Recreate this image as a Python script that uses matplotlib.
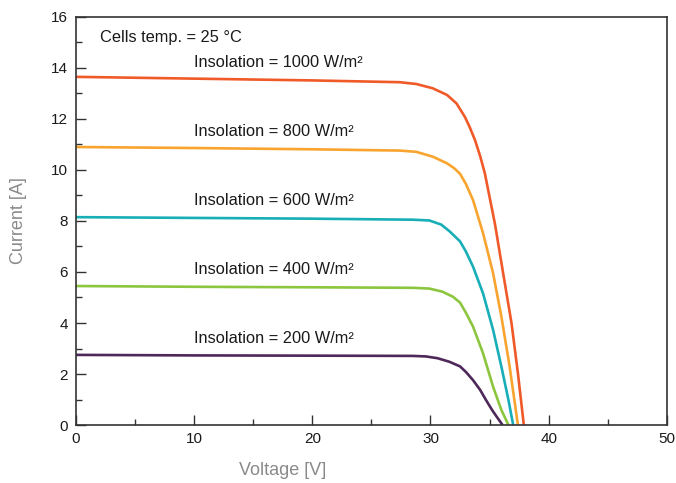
import matplotlib.pyplot as plt
from matplotlib.ticker import MultipleLocator

# I-V curves (voltage V, current A)
v_1000 = [0, 10, 20, 27.4, 28.8, 30.2, 31.4, 32.2, 32.9, 33.3, 33.76, 34.2, 34.6, 35.45, 36.15, 36.86, 37.4, 37.9]
i_1000 = [13.65, 13.58, 13.51, 13.44, 13.37, 13.2, 12.94, 12.61, 12.09, 11.7, 11.18, 10.55, 9.87, 7.9, 5.95, 3.99, 2.03, 0]

v_800 = [0, 10, 20, 27.4, 28.8, 30.2, 31.4, 32.0, 32.5, 33.0, 33.6, 34.45, 35.3, 36.0, 36.7, 37.4]
i_800 = [10.9, 10.86, 10.81, 10.76, 10.71, 10.52, 10.26, 10.07, 9.85, 9.45, 8.82, 7.52, 5.95, 4.25, 2.29, 0]

v_600 = [0, 10, 20, 28.5, 29.9, 30.9, 31.6, 32.1, 32.5, 33.0, 33.6, 34.45, 35.3, 36.0, 36.6, 37.0]
i_600 = [8.15, 8.12, 8.09, 8.05, 8.02, 7.86, 7.6, 7.38, 7.2, 6.8, 6.21, 5.16, 3.73, 2.29, 0.98, 0]

v_400 = [0, 10, 20, 28.5, 29.9, 31.0, 31.9, 32.5, 33.0, 33.6, 34.45, 35.3, 36.0, 36.6]
i_400 = [5.45, 5.42, 5.4, 5.38, 5.35, 5.23, 5.03, 4.8, 4.4, 3.86, 2.81, 1.5, 0.59, 0]

v_200 = [0, 10, 20, 28.5, 29.6, 30.6, 31.6, 32.5, 33.0, 33.6, 34.2, 34.7, 35.2, 35.6, 36.1]
i_200 = [2.75, 2.73, 2.72, 2.71, 2.69, 2.62, 2.48, 2.3, 2.08, 1.76, 1.38, 0.98, 0.6, 0.33, 0]

insolation = [1000, 800, 600, 400, 200]
label_y = [14.2, 11.5, 8.8, 6.1, 3.4]
colors = ['#F05A28', '#F8A42F', '#17AEB7', '#8CC63F', '#4D2859']

plt.rcParams['font.family'] = ['Liberation Sans', 'DejaVu Sans']

fig = plt.figure(figsize=(6.76, 4.83), dpi=100)
ax = fig.add_axes([0.1124, 0.12, 0.874, 0.845])

curves = [(v_1000, i_1000), (v_800, i_800), (v_600, i_600), (v_400, i_400), (v_200, i_200)]
for (v, i), c in zip(curves, colors):
    ax.plot(v, i, color=c, lw=1.9, solid_capstyle='butt', solid_joinstyle='round')

for ins, y in zip(insolation, label_y):
    ax.text(10, y, 'Insolation = %d W/m²' % ins, fontsize=11.8, color='#1a1a1a', va='center')
ax.text(2, 15.2, 'Cells temp. = 25 °C', fontsize=11.8, color='#1a1a1a', va='center')

ax.set_xlim(0, 50)
ax.set_ylim(0, 16)
ax.xaxis.set_major_locator(MultipleLocator(10))
ax.xaxis.set_minor_locator(MultipleLocator(5))
ax.yaxis.set_major_locator(MultipleLocator(2))
ax.yaxis.set_minor_locator(MultipleLocator(1))
ax.tick_params(which='both', direction='in', colors='#333333', labelcolor='#1a1a1a', labelsize=11)
ax.tick_params(which='major', length=7, width=1)
ax.tick_params(which='minor', length=4, width=1)
ax.tick_params(axis='x', pad=5)
ax.tick_params(axis='y', pad=6)
for s in ax.spines.values():
    s.set_color('#333333')
    s.set_linewidth(1.2)

ax.set_xlabel('Voltage [V]', fontsize=13, color='#8a8a8a')
ax.xaxis.set_label_coords(0.35, -0.09)
ax.set_ylabel('Current [A]', fontsize=13, color='#8a8a8a')
ax.yaxis.set_label_coords(-0.083, 0.5)

fig.savefig('out.png', dpi=100)
